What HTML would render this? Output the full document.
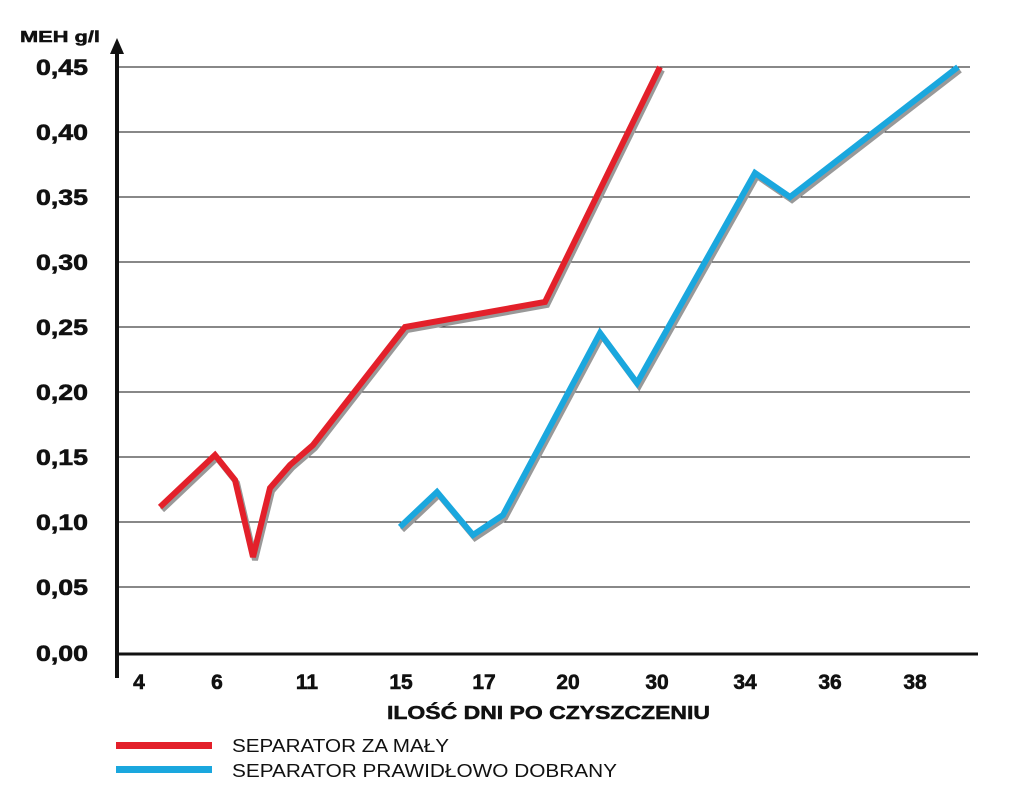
<!DOCTYPE html>
<html><head><meta charset="utf-8"><style>
body{margin:0;background:#fff;}
svg{display:block;font-family:"Liberation Sans",sans-serif;}
</style></head><body>
<svg width="1035" height="789" viewBox="0 0 1035 789">
<g stroke="#111" stroke-width="1">
<line x1="118" y1="67" x2="970" y2="67"/><line x1="118" y1="132" x2="970" y2="132"/>
<line x1="118" y1="197" x2="970" y2="197"/><line x1="118" y1="262" x2="970" y2="262"/>
<line x1="118" y1="327" x2="970" y2="327"/><line x1="118" y1="392" x2="970" y2="392"/>
<line x1="118" y1="457" x2="970" y2="457"/><line x1="118" y1="522" x2="970" y2="522"/>
<line x1="118" y1="587" x2="970" y2="587"/>
</g>
<line x1="116" y1="654" x2="978" y2="654" stroke="#111" stroke-width="3"/>
<line x1="117" y1="52" x2="117" y2="678" stroke="#111" stroke-width="4"/>
<polygon points="117,38 110,54 124,54" fill="#111"/>
<g font-weight="bold" font-size="22" fill="#111" stroke="#111" stroke-width="0.6">
<text x="36" y="75" textLength="52" lengthAdjust="spacingAndGlyphs">0,45</text>
<text x="36" y="140" textLength="52" lengthAdjust="spacingAndGlyphs">0,40</text>
<text x="36" y="205" textLength="52" lengthAdjust="spacingAndGlyphs">0,35</text>
<text x="36" y="270" textLength="52" lengthAdjust="spacingAndGlyphs">0,30</text>
<text x="36" y="335" textLength="52" lengthAdjust="spacingAndGlyphs">0,25</text>
<text x="36" y="400" textLength="52" lengthAdjust="spacingAndGlyphs">0,20</text>
<text x="36" y="465" textLength="52" lengthAdjust="spacingAndGlyphs">0,15</text>
<text x="36" y="530" textLength="52" lengthAdjust="spacingAndGlyphs">0,10</text>
<text x="36" y="595" textLength="52" lengthAdjust="spacingAndGlyphs">0,05</text>
<text x="36" y="661" textLength="52" lengthAdjust="spacingAndGlyphs">0,00</text>
</g>
<text x="20" y="42" font-weight="bold" font-size="16" fill="#111" stroke="#111" stroke-width="0.5" textLength="80" lengthAdjust="spacingAndGlyphs">MEH g/l</text>
<g font-weight="bold" font-size="21" fill="#111" stroke="#111" stroke-width="0.6" text-anchor="middle">
<text x="139" y="689">4</text><text x="217" y="689">6</text><text x="307" y="689">11</text>
<text x="401" y="689">15</text><text x="484" y="689">17</text><text x="568" y="689">20</text>
<text x="657" y="689">30</text><text x="745" y="689">34</text><text x="830" y="689">36</text>
<text x="915" y="689">38</text>
</g>
<text x="387" y="719" font-weight="bold" font-size="18" fill="#111" stroke="#111" stroke-width="0.5" textLength="323" lengthAdjust="spacingAndGlyphs">ILOŚĆ DNI PO CZYSZCZENIU</text>
<g fill="none" stroke-width="6" stroke-linejoin="miter">
<polyline stroke="#999" transform="translate(2,3)" points="160,507 215,455 235,480 253,557 270,488 290,465 313,445 405,327 545,302 660,67"/>
<polyline stroke="#999" transform="translate(2,3)" points="400,527 437,492 473,535 503,515 600,333 637,383 755,173 790,197 958,67"/>
<polyline stroke="#e3202a" points="160,507 215,455 235,480 253,557 270,488 290,465 313,445 405,327 545,302 660,67"/>
<polyline stroke="#1aa7de" points="400,527 437,492 473,535 503,515 600,333 637,383 755,173 790,197 958,67"/>
</g>
<rect x="116" y="742" width="96" height="7" fill="#e3202a"/>
<rect x="116" y="766" width="96" height="7" fill="#1aa7de"/>
<text x="232" y="752" font-size="18" fill="#111" textLength="217" lengthAdjust="spacingAndGlyphs">SEPARATOR ZA MAŁY</text>
<text x="232" y="777" font-size="18" fill="#111" textLength="385" lengthAdjust="spacingAndGlyphs">SEPARATOR PRAWIDŁOWO DOBRANY</text>
</svg>
</body></html>
